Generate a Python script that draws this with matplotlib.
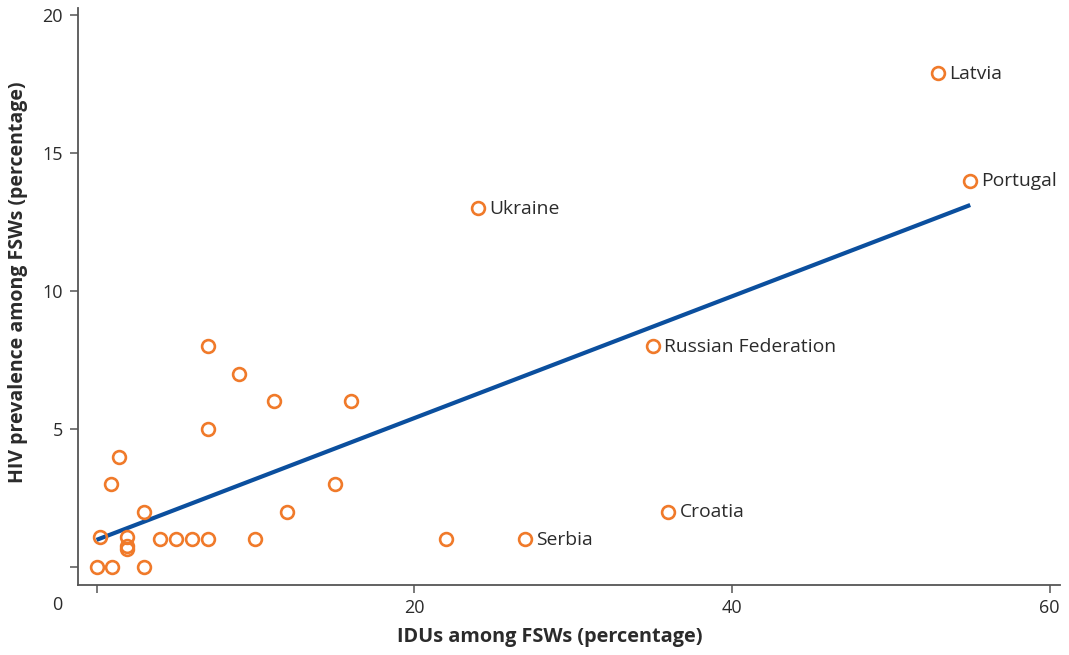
import numpy as np
import matplotlib
matplotlib.use("Agg")
import matplotlib.pyplot as plt

plt.rcParams['font.family'] = ['Open Sans', 'DejaVu Sans']

# IDUs among FSWs (%) and HIV prevalence among FSWs (%) per country
idu_pct = [53, 55, 24, 35, 36, 27, 22, 7, 9, 11.2, 16, 7, 1.4, 0.9, 3, 15, 12,
           0.2, 1.9, 1.9, 1.9, 4, 5, 6, 7, 10, 0, 1, 3]
hiv_pct = [17.9, 14, 13, 8, 2, 1, 1, 8, 7, 6, 6, 5, 4, 3, 2, 3, 2,
           1.1, 1.1, 0.75, 0.65, 1, 1, 1, 1, 1, 0, 0, 0]
labels = ["Latvia", "Portugal", "Ukraine", "Russian Federation", "Croatia", "Serbia"]

x_ticks = [20, 40, 60]
y_ticks = [0, 5, 10, 15, 20]
y_ticklabels = ["", "5", "10", "15", "20"]

orange = "#F07A2A"
blue = "#0B4F9E"
text_c = "#2b2b2b"
axis_c = "#555555"

fig = plt.figure(figsize=(10.69, 6.55), dpi=100)
ax = fig.add_axes([78 / 1069, 1 - 585 / 655, (1060 - 78) / 1069, (585 - 8) / 655])

x = np.array(idu_pct)
y = np.array(hiv_pct)

# least-squares trend line across the range of the data
slope, intercept = np.polyfit(x, y, 1)
xl = np.array([x.min(), x.max()])
ax.plot(xl, intercept + slope * xl, color=blue, lw=3.0, solid_capstyle='butt', zorder=2)

ax.plot(x, y, linestyle='none', marker='o', ms=9.2, mfc='none', mec=orange,
        mew=1.9, zorder=3)

for i, name in enumerate(labels):
    ax.annotate(name, (x[i], y[i]), xytext=(8, -0.5), textcoords='offset points',
                va='center', ha='left', fontsize=13.9, color=text_c)

ax.set_xlim(-1.165, 60.65)
ax.set_ylim(-0.652, 20.25)
ax.set_xticks([0] + x_ticks)
ax.set_xticklabels([""] + [str(t) for t in x_ticks])
ax.set_yticks(y_ticks)
ax.set_yticklabels(y_ticklabels)

for side in ("top", "right"):
    ax.spines[side].set_visible(False)
for side in ("left", "bottom"):
    ax.spines[side].set_color(axis_c)
    ax.spines[side].set_linewidth(1.3)

ax.tick_params(direction='out', length=6, width=1.1, color=axis_c,
               labelsize=13, labelcolor=text_c)
ax.tick_params(axis='y', pad=5)
ax.tick_params(axis='x', pad=4)

# origin label sitting left of the first x tick
fig.text(57 / 1069, 1 - 605 / 655, "0", ha='center', va='center',
         fontsize=13, color=text_c)

fig.text(550 / 1069, 1 - 637 / 655, "IDUs among FSWs (percentage)", ha='center',
         va='center', fontsize=14.3, fontweight='bold', color=text_c)
fig.text(18 / 1069, 1 - 282 / 655, "HIV prevalence among FSWs (percentage)",
         ha='center', va='center', rotation=90, fontsize=14.0, fontweight='bold',
         color=text_c)

fig.savefig("out.png", dpi=100)
